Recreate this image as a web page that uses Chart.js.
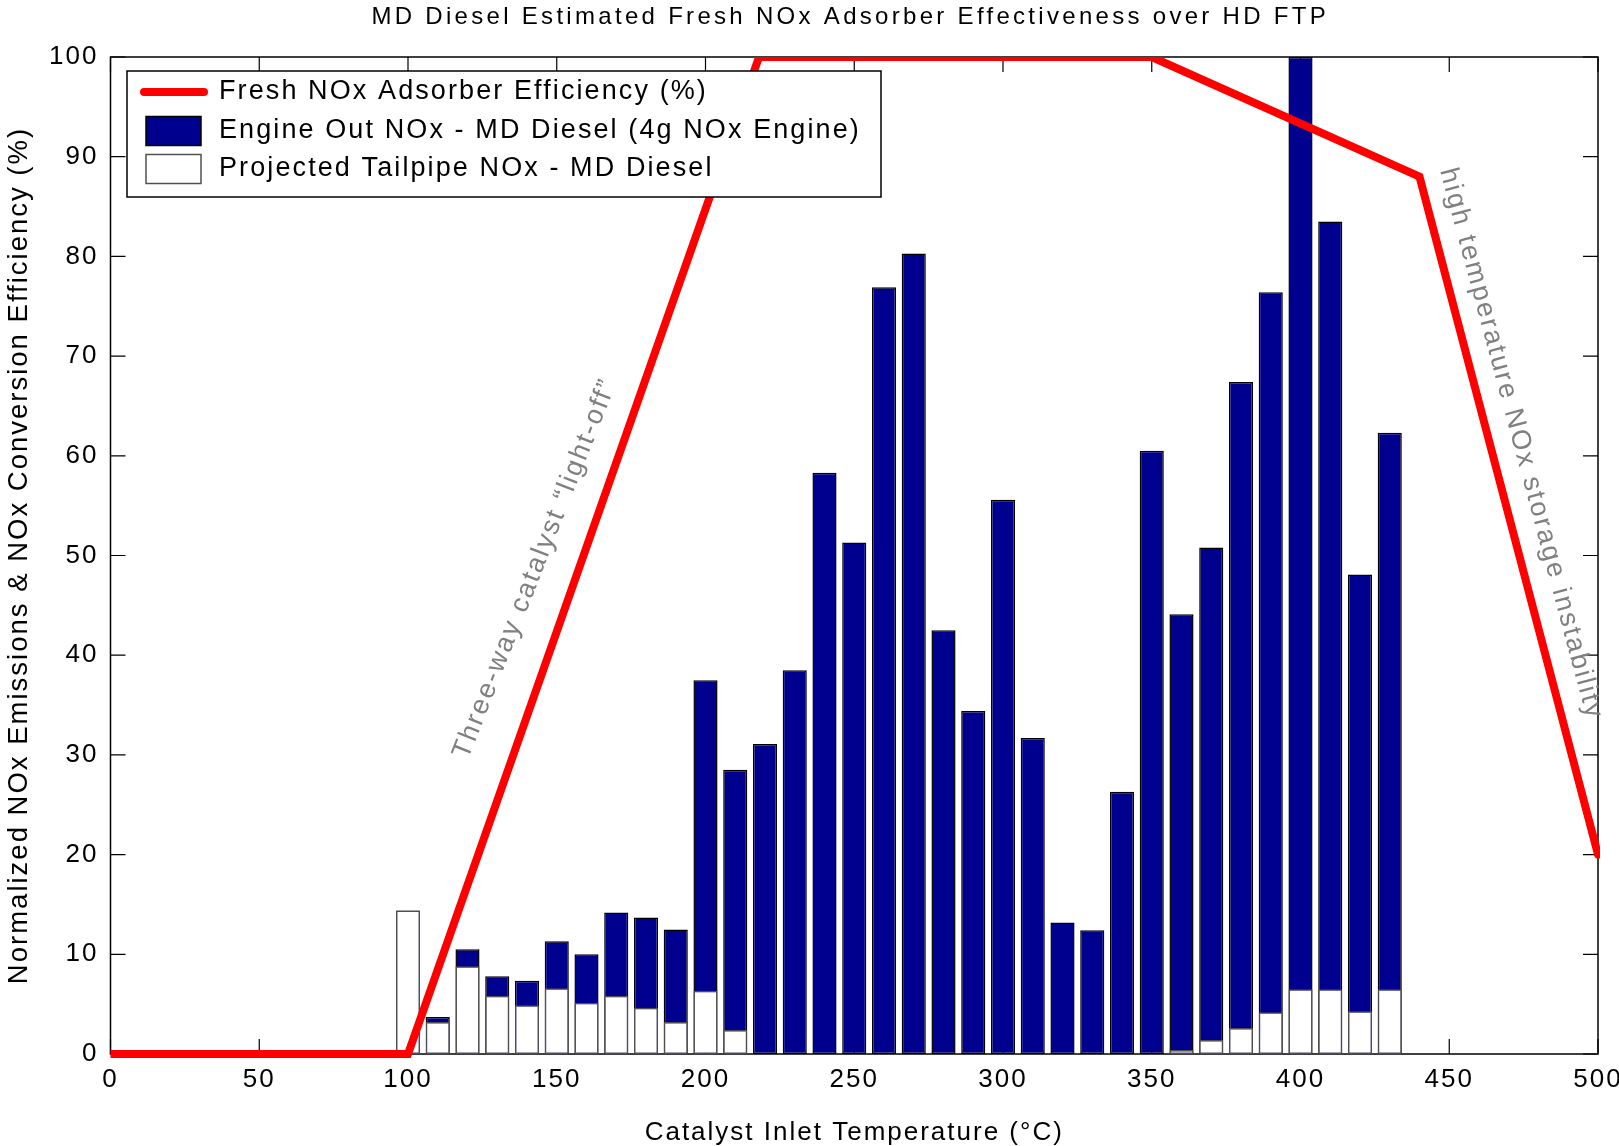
<!DOCTYPE html>
<html>
<head>
<meta charset="utf-8">
<title>MD Diesel Estimated Fresh NOx Adsorber Effectiveness over HD FTP</title>
<script src="https://cdn.jsdelivr.net/npm/chart.js@4.4.1/dist/chart.umd.min.js"></script>
<style>
  html, body { margin: 0; padding: 0; background: #ffffff; }
  canvas { display: block; }
</style>
</head>
<body>
<canvas id="chart" width="1619" height="1146"></canvas>
<script>
// Catalyst inlet temperature bins (°C), one bar per 10 °C bin
const temperatures = [100, 110, 120, 130, 140, 150, 160, 170, 180, 190,
                      200, 210, 220, 230, 240, 250, 260, 270, 280, 290,
                      300, 310, 320, 330, 340, 350, 360, 370, 380, 390,
                      400, 410, 420, 430];

// Normalized engine-out NOx per bin
const engineOutNOx = [14.4, 3.7, 10.5, 7.8, 7.35, 11.3, 10.0, 14.2, 13.7, 12.5,
                      37.5, 28.5, 31.1, 38.5, 58.3, 51.3, 76.9, 80.3, 42.5, 34.4,
                      55.6, 31.7, 13.2, 12.4, 26.3, 60.5, 44.1, 50.8, 67.4, 76.4,
                      100, 83.5, 48.1, 62.3];

// Projected tailpipe NOx per bin (null where the adsorber removes everything)
const tailpipeNOx = [14.4, 3.2, 8.8, 5.85, 4.9, 6.6, 5.15, 5.85, 4.65, 3.2,
                     6.35, 2.4, null, null, null, null, null, null, null, null,
                     null, null, null, null, null, null, 0.4, 1.4, 2.6, 4.2,
                     6.5, 6.5, 4.3, 6.5];

// Fresh NOx adsorber efficiency curve (%)
const adsorberTemp = [0, 100, 218, 350, 440, 500];
const adsorberEff  = [0, 0, 100, 100, 88, 20];

// Axis ticks
const xTicks = [0, 50, 100, 150, 200, 250, 300, 350, 400, 450, 500];
const yTicks = [0, 10, 20, 30, 40, 50, 60, 70, 80, 90, 100];

const chartTitle = 'MD Diesel Estimated Fresh NOx Adsorber Effectiveness over HD FTP';
const xTitle = 'Catalyst Inlet Temperature (\u00B0C)';
const yTitle = 'Normalized NOx Emissions & NOx Conversion Efficiency (%)';
const legendLabels = [
  'Fresh NOx Adsorber Efficiency (%)',
  'Engine Out NOx - MD Diesel (4g NOx Engine)',
  'Projected Tailpipe NOx - MD Diesel'
];
const noteLightOff = 'Three-way catalyst \u201Clight-off\u201D';
const noteHighTemp = 'high temperature NOx storage instability';

const FONT = '"Liberation Sans", Arial, Helvetica, sans-serif';
const RED = 'rgb(255,0,0)';
const NAVY = 'rgb(0,0,143)';
const GRAY = 'rgb(128,128,128)';

// Text in this figure is drawn with a little extra tracking
const trackingPlugin = {
  id: 'tracking',
  beforeUpdate(chart) { chart.ctx.letterSpacing = '2px'; },
  beforeDraw(chart) { chart.ctx.letterSpacing = '2px'; }
};

// Boxed axes with inward tick marks
const framePlugin = {
  id: 'frame',
  beforeDatasetsDraw(chart) {
    const { ctx, chartArea: { left, right, top, bottom }, scales: { x, y } } = chart;
    const tick = 15;
    ctx.save();
    ctx.strokeStyle = '#000';
    ctx.lineWidth = 1.2;
    ctx.beginPath();
    xTicks.forEach(v => {
      const px = x.getPixelForValue(v);
      ctx.moveTo(px, bottom); ctx.lineTo(px, bottom - tick);
      ctx.moveTo(px, top); ctx.lineTo(px, top + tick);
    });
    yTicks.forEach(v => {
      const py = y.getPixelForValue(v);
      ctx.moveTo(left, py); ctx.lineTo(left + tick, py);
      ctx.moveTo(right, py); ctx.lineTo(right - tick, py);
    });
    ctx.stroke();
    ctx.lineWidth = 1.5;
    ctx.strokeRect(left, top, right - left, bottom - top);
    ctx.restore();
  }
};

// Title, in-axes legend and curve annotations
const overlayPlugin = {
  id: 'overlay',
  afterDraw(chart) {
    const { ctx, chartArea, scales: { x, y } } = chart;
    ctx.save();

    // title
    ctx.letterSpacing = '3.3px';
    ctx.font = '24px ' + FONT;
    ctx.fillStyle = '#000';
    ctx.textAlign = 'center';
    ctx.textBaseline = 'middle';
    ctx.fillText(chartTitle, (chartArea.left + chartArea.right) / 2 - 4, 17.5);

    // legend box
    const L = chartArea.left + 16.5, T = chartArea.top + 14, W = 754, H = 126;
    ctx.fillStyle = '#fff';
    ctx.fillRect(L, T, W, H);
    ctx.strokeStyle = '#000';
    ctx.lineWidth = 1.5;
    ctx.strokeRect(L, T, W, H);

    const rows = [T + 21, T + 60, T + 98];
    ctx.lineCap = 'round';
    ctx.strokeStyle = RED;
    ctx.lineWidth = 8;
    ctx.beginPath();
    ctx.moveTo(L + 17, rows[0]); ctx.lineTo(L + 77, rows[0]);
    ctx.stroke();

    ctx.lineCap = 'butt';
    ctx.lineWidth = 1.5;
    ctx.fillStyle = NAVY;
    ctx.fillRect(L + 19, rows[1] - 14.5, 55, 29);
    ctx.strokeStyle = '#000';
    ctx.strokeRect(L + 19, rows[1] - 14.5, 55, 29);
    ctx.fillStyle = '#fff';
    ctx.fillRect(L + 19, rows[2] - 14.5, 55, 29);
    ctx.strokeStyle = 'rgb(80,80,80)';
    ctx.strokeRect(L + 19, rows[2] - 14.5, 55, 29);

    ctx.letterSpacing = '2.1px';
    ctx.font = '27px ' + FONT;
    ctx.fillStyle = '#000';
    ctx.textAlign = 'left';
    ctx.textBaseline = 'middle';
    legendLabels.forEach((t, i) => ctx.fillText(t, L + 92, rows[i]));

    // annotations along the efficiency curve
    ctx.letterSpacing = '2.2px';
    ctx.font = '27px ' + FONT;
    ctx.fillStyle = GRAY;
    ctx.textAlign = 'center';
    ctx.textBaseline = 'middle';

    ctx.save();
    ctx.translate(x.getPixelForValue(142.8), y.getPixelForValue(48.7));
    ctx.rotate(-68.5 * Math.PI / 180);
    ctx.fillText(noteLightOff, 0, 0);
    ctx.restore();

    ctx.save();
    ctx.translate(x.getPixelForValue(474.1), y.getPixelForValue(61.2));
    ctx.rotate(75 * Math.PI / 180);
    ctx.fillText(noteHighTemp, 0, 0);
    ctx.restore();

    ctx.restore();
  }
};

const ctx = document.getElementById('chart').getContext('2d');
new Chart(ctx, {
  type: 'bar',
  data: {
    datasets: [
      {
        type: 'line',
        label: legendLabels[0],
        data: adsorberTemp.map((t, i) => ({ x: t, y: adsorberEff[i] })),
        borderColor: RED,
        backgroundColor: RED,
        borderWidth: 8,
        borderCapStyle: 'round',
        borderJoinStyle: 'miter',
        pointRadius: 0,
        tension: 0,
        fill: false,
        clip: { left: 0, top: 0, right: 2, bottom: 6 },
        order: 0
      },
      {
        type: 'bar',
        label: legendLabels[2],
        data: temperatures.map((t, i) => ({ x: t, y: tailpipeNOx[i] })),
        backgroundColor: '#ffffff',
        borderColor: 'rgb(80,80,80)',
        borderWidth: 1.5,
        borderSkipped: false,
        grouped: false,
        categoryPercentage: 0.9,
        barPercentage: 0.9,
        order: 1
      },
      {
        type: 'bar',
        label: legendLabels[1],
        data: temperatures.map((t, i) => ({ x: t, y: engineOutNOx[i] })),
        backgroundColor: NAVY,
        borderColor: '#000',
        borderWidth: 1.5,
        borderSkipped: false,
        grouped: false,
        categoryPercentage: 0.9,
        barPercentage: 0.9,
        order: 2
      }
    ]
  },
  options: {
    responsive: false,
    devicePixelRatio: 1,
    animation: false,
    events: [],
    layout: { padding: { top: 57, right: 21, bottom: 0, left: 0 } },
    plugins: {
      legend: { display: false },
      title: { display: false },
      tooltip: { enabled: false }
    },
    scales: {
      x: {
        type: 'linear',
        min: 0,
        max: 500,
        offset: false,
        grid: { display: false, drawTicks: false },
        border: { display: false },
        afterBuildTicks: s => { s.ticks = xTicks.map(v => ({ value: v })); },
        afterFit: s => { s.height = 92; s.paddingLeft = 0; s.paddingRight = 0; },
        ticks: {
          color: '#000',
          padding: 10,
          maxRotation: 0,
          font: { family: FONT, size: 26 }
        },
        title: {
          display: true,
          text: xTitle,
          color: '#000',
          font: { family: FONT, size: 26 },
          padding: { top: 0, bottom: -2 }
        }
      },
      y: {
        type: 'linear',
        min: 0,
        max: 100,
        grid: { display: false, drawTicks: false },
        border: { display: false },
        afterBuildTicks: s => { s.ticks = yTicks.map(v => ({ value: v })); },
        afterFit: s => { s.width = 110.5; s.paddingTop = 0; s.paddingBottom = 0; },
        ticks: {
          color: '#000',
          padding: 12,
          font: { family: FONT, size: 26 }
        },
        title: {
          display: true,
          text: yTitle,
          color: '#000',
          font: { family: FONT, size: 27.5 },
          padding: { top: 3, bottom: 0 }
        }
      }
    }
  },
  plugins: [trackingPlugin, framePlugin, overlayPlugin]
});
</script>
</body>
</html>
